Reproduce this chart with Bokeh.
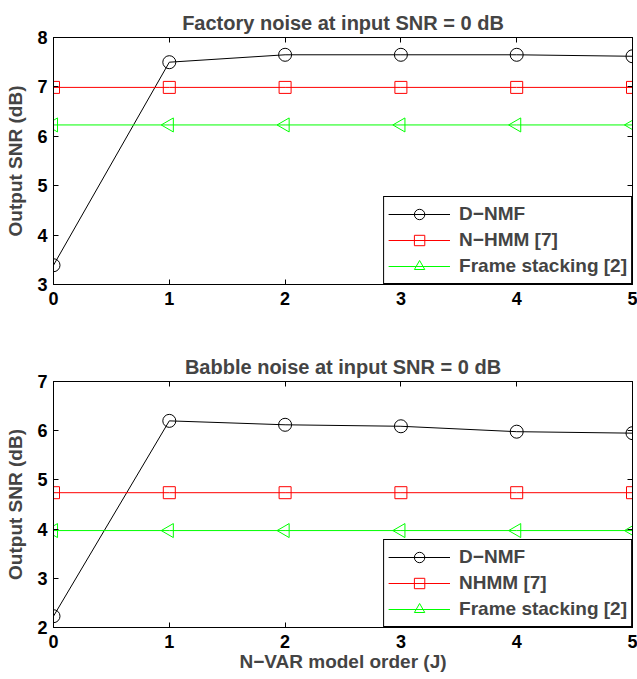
import numpy as np
from bokeh.plotting import figure
from bokeh.models import LinearAxis, Legend, LegendItem, FixedTicker, Range1d
from bokeh.layouts import column
from bokeh.embed import file_html
from bokeh.resources import INLINE

# ---- data ----
model_order = [0, 1, 2, 3, 4, 5]
x_ticks = [0, 1, 2, 3, 4, 5]

factory_dnmf = [3.39, 7.50, 7.65, 7.65, 7.65, 7.62]
factory_nhmm = [6.99, 6.99, 6.99, 6.99, 6.99, 6.99]
factory_stack = [6.23, 6.23, 6.23, 6.23, 6.23, 6.23]
factory_yticks = [3, 4, 5, 6, 7, 8]

babble_dnmf = [2.23, 6.20, 6.12, 6.09, 5.98, 5.95]
babble_nhmm = [4.74, 4.74, 4.74, 4.74, 4.74, 4.74]
babble_stack = [3.97, 3.97, 3.97, 3.97, 3.97, 3.97]
babble_yticks = [2, 3, 4, 5, 6, 7]

FONT = "Liberation Sans"


def style_axis(ax, ticks, show_labels=True):
    ax.ticker = FixedTicker(ticks=ticks)
    ax.minor_tick_line_color = None
    ax.major_tick_in = 5
    ax.major_tick_out = 0
    ax.major_tick_line_color = "black"
    ax.axis_line_color = "black"
    if show_labels:
        ax.major_label_text_font = FONT
        ax.major_label_text_font_style = "bold"
        ax.major_label_text_font_size = "18px"
        ax.major_label_text_color = "black"
    else:
        ax.major_label_text_font_size = "0px"
        ax.major_label_standoff = 0
        ax.major_label_text_color = None


def make_plot(title, dnmf, nhmm, stack, yticks, names, height, top_border, bottom_border, xlabel=None):
    p = figure(width=637, height=height, output_backend="svg", toolbar_location=None,
               x_range=Range1d(0, 5), y_range=Range1d(yticks[0], yticks[-1]),
               min_border_left=53, min_border_right=5,
               min_border_top=top_border, min_border_bottom=bottom_border)
    p.title.text = title
    p.title.align = "center"
    p.title.text_font = FONT
    p.title.text_font_style = "bold"
    p.title.text_font_size = "20px"
    p.title.standoff = 7
    p.grid.visible = False
    p.outline_line_color = "black"
    p.outline_line_alpha = 1
    p.background_fill_color = "white"
    p.border_fill_color = "white"

    style_axis(p.xaxis[0], x_ticks)
    style_axis(p.yaxis[0], yticks)
    p.xaxis[0].major_label_standoff = 7
    p.yaxis[0].major_label_standoff = 6
    p.yaxis[0].axis_label = "Output SNR (dB)"
    p.yaxis[0].axis_label_text_font = FONT
    p.yaxis[0].axis_label_text_font_style = "bold"
    p.yaxis[0].axis_label_text_font_size = "19px"
    p.yaxis[0].axis_label_standoff = 8
    if xlabel:
        p.xaxis[0].axis_label = xlabel
        p.xaxis[0].axis_label_text_font = FONT
        p.xaxis[0].axis_label_text_font_style = "bold"
        p.xaxis[0].axis_label_text_font_size = "19px"
        p.xaxis[0].axis_label_standoff = 0

    top_ax = LinearAxis()
    style_axis(top_ax, x_ticks, show_labels=False)
    p.add_layout(top_ax, "above")
    right_ax = LinearAxis()
    style_axis(right_ax, yticks, show_labels=False)
    p.add_layout(right_ax, "right")

    r1 = p.line(model_order, dnmf, line_color="black", line_width=1)
    m1 = p.scatter(model_order, dnmf, marker="circle", size=13, line_color="black", fill_color=None)
    r2 = p.line(model_order, nhmm, line_color="#ff0000", line_width=1)
    m2 = p.scatter(model_order, nhmm, marker="square", size=12, line_color="#ff0000", fill_color=None)
    r3 = p.line(model_order, stack, line_color="#00ff00", line_width=1)
    m3 = p.scatter(model_order, stack, marker="triangle", size=14, angle=np.pi / 2,
                   line_color="#00ff00", fill_color=None)

    legend = Legend(items=[LegendItem(label=names[0], renderers=[r1, m1]),
                           LegendItem(label=names[1], renderers=[r2, m2]),
                           LegendItem(label=names[2], renderers=[r3, m3])],
                    location="bottom_right")
    legend.margin = 0
    legend.padding = 4
    legend.spacing = 0
    legend.glyph_width = 62
    legend.glyph_height = 26
    legend.label_height = 26
    legend.label_standoff = 9
    legend.label_text_font = FONT
    legend.label_text_font_style = "bold"
    legend.label_text_font_size = "19px"
    legend.border_line_color = "black"
    legend.border_line_alpha = 1
    legend.background_fill_color = "white"
    legend.background_fill_alpha = 1
    p.add_layout(legend, "center")
    return p


p1 = make_plot("Factory noise at input SNR = 0 dB", factory_dnmf, factory_nhmm, factory_stack,
               factory_yticks, ["D\u2212NMF", "N\u2212HMM [7]", "Frame stacking [2]"],
               height=330, top_border=37, bottom_border=46)
p2 = make_plot("Babble noise at input SNR = 0 dB", babble_dnmf, babble_nhmm, babble_stack,
               babble_yticks, ["D\u2212NMF", "NHMM [7]", "Frame stacking [2]"],
               height=349, top_border=51, bottom_border=52, xlabel="N\u2212VAR model order (J)")

layout = column(p1, p2, spacing=0)
open("out.html", "w").write(file_html(layout, INLINE))
